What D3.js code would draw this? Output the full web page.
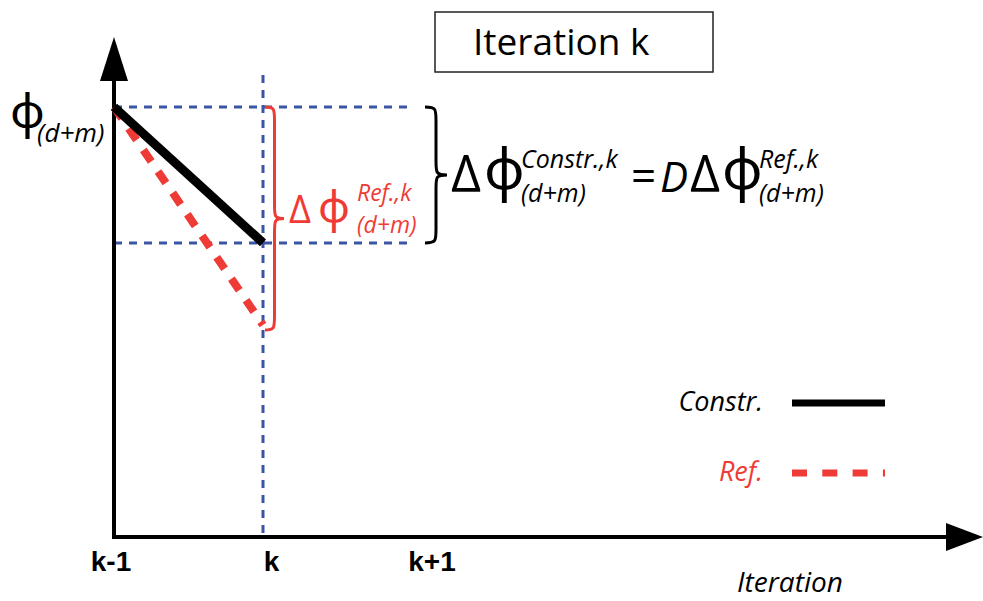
<!DOCTYPE html>
<html>
<head>
<meta charset="utf-8">
<script src="https://cdn.jsdelivr.net/npm/d3@7"></script>
<style>
  html, body { margin: 0; padding: 0; background: #fff; }
  svg { display: block; }
  text { font-family: "Open Sans", "Noto Sans", sans-serif; }
</style>
</head>
<body>
<svg id="chart" width="983" height="601"></svg>
<script>
// ---- data ----
const categories = ["k-1", "k", "k+1"];
const steps = [0, 1];                 // k-1, k
const constrValues = [1.0, 0.684];    // Constr. series
const refValues = [1.0, 0.493];       // Ref. series
const seriesNames = ["Constr.", "Ref."];

const BLUE = "#3b54a4";
const RED = "#ef3b36";

const svg = d3.select("#chart");

// scales
const x = d3.scaleLinear().domain([0, 1]).range([114, 263]);
const xLabel = d3.scalePoint().domain(categories).range([111, 432]);
const y = d3.scaleLinear().domain([0, 1]).range([537, 107]);

// ---- guide dashed lines ----
const kx = x(1);
svg.append("line").attr("x1", kx).attr("x2", kx).attr("y1", 75).attr("y2", y(0))
  .attr("stroke", BLUE).attr("stroke-width", 3).attr("stroke-dasharray", "8,7");
[constrValues[0], constrValues[1]].forEach(v => {
  svg.append("line").attr("x1", x(0)).attr("x2", 410).attr("y1", y(v)).attr("y2", y(v))
    .attr("stroke", BLUE).attr("stroke-width", 3).attr("stroke-dasharray", "8,7");
});

// ---- axes ----
svg.append("line").attr("x1", x(0)).attr("x2", x(0)).attr("y1", y(0) + 2).attr("y2", 78)
  .attr("stroke", "#000").attr("stroke-width", 4);
svg.append("path").attr("d", `M${x(0)},37 L${x(0)+14},81 L${x(0)-14},81 Z`).attr("fill", "#000");
svg.append("line").attr("x1", x(0) - 2).attr("x2", 948).attr("y1", y(0)).attr("y2", y(0))
  .attr("stroke", "#000").attr("stroke-width", 4);
svg.append("path").attr("d", `M983,${y(0)} L946,${y(0)-14} L946,${y(0)+14} Z`).attr("fill", "#000");

// tick labels
svg.append("g").selectAll("text").data(categories).join("text")
  .attr("x", d => xLabel(d)).attr("y", 571)
  .attr("text-anchor", "middle")
  .style("font-family", "'Liberation Sans', Arial, sans-serif")
  .style("font-weight", "bold").style("font-size", "28px")
  .text(d => d);

svg.append("text").attr("x", 737).attr("y", 592)
  .style("font-style", "italic").style("font-size", "28px").text("Iteration");

// ---- series lines ----
const line = d3.line().x((d, i) => x(steps[i])).y(d => y(d));
svg.append("path").datum(refValues).attr("d", line)
  .attr("fill", "none").attr("stroke", RED).attr("stroke-width", 8)
  .attr("stroke-dasharray", "14,12");
svg.append("path").datum(constrValues).attr("d", line)
  .attr("fill", "none").attr("stroke", "#000").attr("stroke-width", 9);

// ---- braces ----
function brace(x0, y1, y2, w) {
  const ym = (y1 + y2) / 2, h = w / 2, r = Math.min(14, (y2 - y1) / 6);
  return `M${x0},${y1} C${x0 + h},${y1} ${x0 + h},${y1 + 2} ${x0 + h},${y1 + r}
    L${x0 + h},${ym - r} C${x0 + h},${ym - 2} ${x0 + h},${ym} ${x0 + w},${ym}
    C${x0 + h},${ym} ${x0 + h},${ym + 2} ${x0 + h},${ym + r}
    L${x0 + h},${y2 - r} C${x0 + h},${y2 - 2} ${x0 + h},${y2} ${x0},${y2}`;
}
svg.append("path").attr("d", brace(kx + 2, y(refValues[0]), y(refValues[1]) + 5, 19))
  .attr("fill", "none").attr("stroke", RED).attr("stroke-width", 3);
svg.append("path").attr("d", brace(425, y(constrValues[0]), y(constrValues[1]), 22))
  .attr("fill", "none").attr("stroke", "#000").attr("stroke-width", 3);

// ---- math labels ----
const g = svg.append("g");
function txt(xx, yy, s, size, color, italic) {
  return g.append("text").attr("x", xx).attr("y", yy).attr("fill", color || "#000")
    .style("font-size", size + "px").style("font-style", italic ? "italic" : "normal").text(s);
}
// left axis label
txt(10, 128, "\u03D5", 48);
txt(37, 142, "(d+m)", 26, "#000", true);

// red label
txt(289, 223, "\u0394", 38, RED);
txt(318, 222, "\u03D5", 44, RED);
txt(357, 201, "Ref.,k", 23, RED, true);
txt(357, 233, "(d+m)", 23, RED, true);

// black equation
txt(451, 192, "\u0394", 52);
txt(484, 189, "\u03D5", 56);
txt(521, 168, "Constr.,k", 25, "#000", true);
txt(521, 202, "(d+m)", 25, "#000", true);
txt(631, 192, "=", 44);
txt(660, 192, "D", 42, "#000", true);
txt(690, 192, "\u0394", 52);
txt(722, 189, "\u03D5", 56);
txt(759, 168, "Ref.,k", 25, "#000", true);
txt(759, 202, "(d+m)", 25, "#000", true);

// ---- title box ----
svg.append("rect").attr("x", 435).attr("y", 12).attr("width", 278).attr("height", 60)
  .attr("fill", "none").attr("stroke", "#222").attr("stroke-width", 1.5);
svg.append("text").attr("x", 473).attr("y", 55).style("font-size", "37px").text("Iteration k");

// ---- legend ----
const legend = svg.append("g").selectAll("g").data(seriesNames).join("g")
  .attr("transform", (d, i) => `translate(0,${403 + i * 70})`);
legend.append("text").attr("x", 763).attr("y", 8).attr("text-anchor", "end")
  .attr("fill", (d, i) => i === 0 ? "#000" : RED)
  .style("font-style", "italic").style("font-size", "27px").text(d => d);
legend.append("line").attr("x1", 792).attr("x2", 885).attr("y1", 0).attr("y2", 0)
  .attr("stroke", (d, i) => i === 0 ? "#000" : RED).attr("stroke-width", 7)
  .attr("stroke-dasharray", (d, i) => i === 0 ? null : "15,15.3");
</script>
</body>
</html>
